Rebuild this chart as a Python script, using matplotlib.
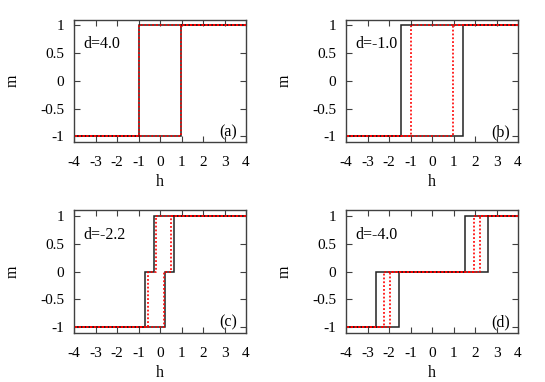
import matplotlib
matplotlib.use('Agg')
import matplotlib.pyplot as plt
import numpy as np

plt.rcParams['font.family'] = ['Liberation Serif', 'DejaVu Serif']
plt.rcParams['font.size'] = 11

# 面板标签和参数
panels = ['(a)', '(b)', '(c)', '(d)']
d_labels = ['d=4.0', 'd=-1.0', 'd=-2.2', 'd=-4.0']
# 每个回线的磁化台阶
levels_2 = [1, -1]
levels_3 = [1, 0, -1]
panel_levels = [levels_2, levels_2, levels_3, levels_3]
# 黑色实线：下降支和上升支的翻转场
black_down = [[-1.0], [-1.42], [-0.27, -0.71], [1.55, -2.60]]
black_up = [[0.97], [1.42], [0.24, 0.67], [-1.55, 2.60]]
# 红色点线
red_down = [[-1.0], [-1.0], [-0.18, -0.57], [1.95, -2.25]]
red_up = [[0.97], [0.98], [0.18, 0.52], [-1.95, 2.25]]

h_min, h_max = -4, 4


def loop_path(down, up, levels):
    '''由翻转场构造回线折线'''
    hs = [h_max]
    ms = [levels[0]]
    for i, hs_w in enumerate(down):
        hs += [hs_w, hs_w]
        ms += [levels[i], levels[i + 1]]
    hs.append(h_min)
    ms.append(levels[-1])
    rev = levels[::-1]
    hs.append(h_min)
    ms.append(rev[0])
    for i, hs_w in enumerate(up):
        hs += [hs_w, hs_w]
        ms += [rev[i], rev[i + 1]]
    hs.append(h_max)
    ms.append(rev[-1])
    return np.array(hs), np.array(ms)


fig = plt.figure(figsize=(5.45, 3.82), dpi=100)
lefts = [74, 346, 74, 346]
tops = [19.5, 19.5, 210.3, 210.3]
W, H = 172, 122.5
frame_col = '#404040'

for k in range(4):
    ax = fig.add_axes([lefts[k] / 545, 1 - (tops[k] + H) / 382, W / 545, H / 382])
    hb, mb = loop_path(black_down[k], black_up[k], panel_levels[k])
    hr, mr = loop_path(red_down[k], red_up[k], panel_levels[k])
    ax.plot(hb, mb, color='#222222', lw=1.1, solid_joinstyle='miter')
    ax.plot(hr, mr, color='red', lw=1.2, ls=(0, (1.1, 1.2)))
    ax.set_xlim(h_min, h_max)
    ax.set_ylim(-1.1, 1.1)
    ax.set_xticks(np.arange(-4, 5, 1))
    ax.set_yticks([-1, -0.5, 0, 0.5, 1])
    ax.set_yticklabels(['-1', '-0.5', '0', '0.5', '1'])
    ax.set_xticklabels([str(v) for v in range(-4, 5)])
    ax.tick_params(direction='in', length=4, width=0.8, top=True, right=True,
                   color=frame_col, labelsize=11)
    ax.tick_params(axis='x', pad=10)
    ax.tick_params(axis='y', pad=7)
    for s in ax.spines.values():
        s.set_color(frame_col)
        s.set_linewidth(1.0)
    ax.set_xlabel('h', fontsize=11.5, va='center')
    ax.xaxis.set_label_coords(0.5, -40 / H)
    ax.set_ylabel('m', fontsize=11.5, va='center')
    ax.yaxis.set_label_coords(-61 / W, 0.5)
    ax.text(-3.58, 0.66, d_labels[k], ha='left', va='center', fontsize=11.5)
    ax.text(3.17, -0.92, panels[k], ha='center', va='center', fontsize=11.5)

plt.savefig('out.png', dpi=100)
